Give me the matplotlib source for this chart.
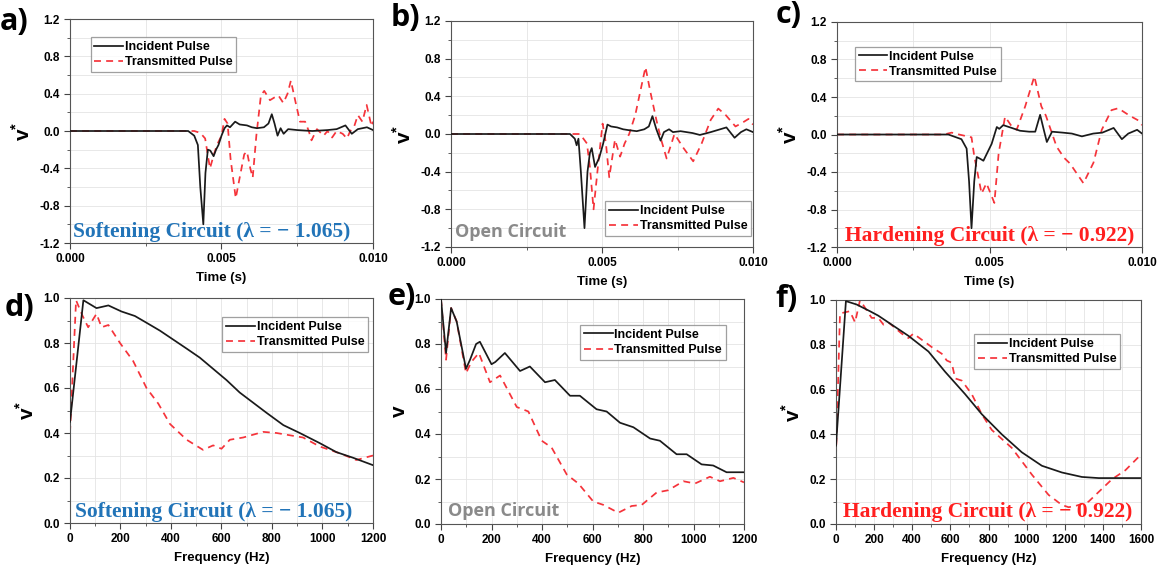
import numpy as np
import matplotlib
matplotlib.use("Agg")
import matplotlib.pyplot as plt
from matplotlib.ticker import MultipleLocator, FormatStrFormatter

plt.rcParams['font.family'] = ['Liberation Sans', 'DejaVu Sans']
plt.rcParams['font.weight'] = 'bold'
plt.rcParams['mathtext.fontset'] = 'custom'
plt.rcParams['mathtext.rm'] = 'Liberation Sans:bold'
plt.rcParams['mathtext.bf'] = 'Liberation Sans:bold'

# ---- time domain (times in ms) ----
a_inc_t = [0, 3.9, 4.1, 4.22, 4.3, 4.4, 4.47, 4.55, 4.63, 4.74, 4.82, 4.9, 5.0, 5.1, 5.18, 5.28, 5.45, 5.6, 5.84, 6.0,
           6.17, 6.4, 6.55, 6.66, 6.75, 6.85, 6.95, 7.05, 7.2, 7.5, 8.0, 8.5, 8.8, 9.09, 9.3, 9.5, 9.8, 10.0]
a_inc_v = [0, 0, -0.05, -0.15, -0.6, -1.0, -0.45, -0.2, -0.21, -0.27, -0.2, -0.15, -0.05, 0.03, 0.06, 0.04, 0.1, 0.07,
           0.06, 0.04, 0.03, 0.04, 0.08, 0.18, 0.08, -0.05, 0.03, -0.03, 0.02, 0.01, 0.0, 0.01, 0.02, 0.06, -0.03, 0.02,
           0.04, 0.01]
a_tra_t = [0, 4.1, 4.3, 4.46, 4.62, 4.75, 4.85, 5.0, 5.1, 5.2, 5.3, 5.47, 5.6, 5.75, 5.84, 5.95, 6.03, 6.15, 6.3, 6.41,
           6.6, 6.75, 6.88, 7.04, 7.18, 7.29, 7.45, 7.59, 7.76, 7.88, 7.97, 8.15, 8.37, 8.5, 8.65, 8.8, 9.0, 9.14, 9.25,
           9.38, 9.5, 9.65, 9.79, 9.95, 10.0]
a_tra_v = [0, 0, -0.02, -0.08, -0.4, -0.25, -0.15, -0.05, 0.13, 0.08, -0.3, -0.72, -0.5, -0.25, -0.22, -0.4, -0.5,
           -0.05, 0.38, 0.43, 0.33, 0.36, 0.38, 0.3, 0.4, 0.54, 0.3, 0.1, 0.1, 0.0, -0.1, 0.02, -0.05, 0.0, -0.07, 0.0,
           -0.03, -0.08, 0.0, 0.05, 0.17, 0.1, 0.28, 0.05, 0.1]

b_inc_t = [0, 3.94, 4.1, 4.16, 4.22, 4.3, 4.42, 4.52, 4.6, 4.66, 4.77, 4.91, 5.04, 5.18, 5.3, 5.5, 5.7, 5.9, 6.15, 6.4,
           6.55, 6.67, 6.8, 6.94, 7.05, 7.22, 7.35, 7.6, 8.0, 8.24, 8.6, 9.12, 9.39, 9.6, 9.78, 10.0]
b_inc_v = [0, 0, -0.05, -0.12, -0.05, -0.4, -1.0, -0.4, -0.2, -0.15, -0.35, -0.25, -0.1, 0.1, 0.08, 0.07, 0.05, 0.04,
           0.03, 0.05, 0.08, 0.19, 0.05, -0.07, 0.02, 0.05, 0.02, 0.03, 0.01, -0.01, 0.02, 0.07, -0.04, 0.02, 0.05, 0.02]
b_tra_t = [0, 4.27, 4.5, 4.6, 4.72, 4.88, 5.02, 5.13, 5.24, 5.43, 5.6, 5.75, 5.9, 6.1, 6.3, 6.44, 6.6, 6.8, 6.95, 7.14,
           7.3, 7.4, 7.7, 8.02, 8.3, 8.6, 8.85, 9.1, 9.42, 9.65, 9.85, 10.0]
b_tra_v = [0, 0, -0.1, -0.35, -0.8, -0.3, 0.11, -0.1, -0.46, -0.06, -0.24, -0.1, 0.0, 0.2, 0.5, 0.71, 0.45, 0.15,
           -0.05, -0.26, -0.1, 0.0, -0.15, -0.29, -0.1, 0.15, 0.27, 0.2, 0.08, 0.12, 0.16, 0.1]

c_inc_t = [0, 3.65, 4.08, 4.25, 4.33, 4.41, 4.5, 4.58, 4.7, 4.8, 4.92, 5.07, 5.24, 5.32, 5.45, 5.73, 6.0, 6.3, 6.5,
           6.66, 6.78, 6.88, 7.05, 7.4, 7.7, 8.03, 8.4, 8.7, 9.07, 9.34, 9.55, 9.84, 10.0]
c_inc_v = [0, 0, -0.05, -0.15, -0.5, -1.0, -0.5, -0.24, -0.26, -0.28, -0.2, -0.1, 0.08, 0.06, 0.1, 0.07, 0.04, 0.03,
           0.03, 0.21, 0.05, -0.08, 0.03, 0.02, 0.01, -0.02, 0.01, 0.02, 0.07, -0.05, 0.01, 0.05, 0.01]
c_tra_t = [0, 3.5, 3.76, 4.0, 4.41, 4.5, 4.74, 4.9, 5.16, 5.3, 5.51, 5.7, 5.89, 6.17, 6.47, 6.7, 6.85, 7.2, 7.45,
           7.64, 8.08, 8.41, 8.68, 9.0, 9.22, 9.6, 9.88, 10.0]
c_tra_v = [0, 0, 0.02, 0.0, -0.03, -0.23, -0.63, -0.52, -0.73, -0.2, 0.19, 0.1, 0.05, 0.3, 0.62, 0.3, 0.2, -0.13,
           -0.25, -0.31, -0.52, -0.3, 0.05, 0.26, 0.28, 0.2, 0.15, 0.1]

# ---- frequency domain (Hz) ----
d_inc_f = [0, 53, 105, 152, 204, 257, 303, 356, 409, 462, 514, 567, 620, 672, 725, 778, 845, 910, 989, 1055, 1121, 1200]
d_inc_v = [0.45, 0.99, 0.955, 0.967, 0.94, 0.92, 0.89, 0.855, 0.815, 0.775, 0.735, 0.685, 0.635, 0.58, 0.535, 0.49,
           0.435, 0.40, 0.355, 0.315, 0.29, 0.257]
d_tra_f = [0, 24, 50, 72, 105, 125, 152, 198, 250, 303, 350, 396, 462, 527, 567, 600, 633, 686, 765, 818, 870, 923,
           989, 1068, 1134, 1200]
d_tra_v = [0.40, 0.99, 0.92, 0.87, 0.93, 0.87, 0.88, 0.80, 0.72, 0.60, 0.53, 0.44, 0.37, 0.325, 0.345, 0.33, 0.37,
           0.38, 0.405, 0.40, 0.39, 0.38, 0.34, 0.31, 0.28, 0.30]

e_inc_f = [0, 20, 40, 62, 99, 115, 139, 154, 200, 215, 253, 313, 352, 412, 451, 511, 550, 616, 656, 709, 762, 828,
           867, 933, 973, 1032, 1078, 1131, 1200]
e_inc_v = [1.0, 0.76, 0.96, 0.90, 0.69, 0.73, 0.80, 0.81, 0.71, 0.72, 0.76, 0.68, 0.70, 0.63, 0.64, 0.57, 0.57, 0.51,
           0.50, 0.45, 0.43, 0.38, 0.37, 0.31, 0.31, 0.265, 0.26, 0.23, 0.23]
e_tra_f = [0, 20, 40, 62, 99, 120, 150, 194, 234, 300, 346, 399, 438, 498, 544, 603, 643, 702, 755, 795, 854, 900,
           960, 1006, 1065, 1105, 1158, 1200]
e_tra_v = [1.0, 0.73, 0.96, 0.90, 0.67, 0.72, 0.76, 0.63, 0.66, 0.52, 0.50, 0.37, 0.34, 0.22, 0.18, 0.10, 0.085, 0.05,
           0.08, 0.085, 0.14, 0.15, 0.19, 0.18, 0.21, 0.19, 0.205, 0.185]

f_inc_f = [0, 52, 108, 178, 222, 292, 380, 485, 572, 677, 765, 870, 975, 1080, 1185, 1290, 1378, 1600]
f_inc_v = [0.35, 0.995, 0.98, 0.95, 0.93, 0.89, 0.84, 0.77, 0.68, 0.58, 0.49, 0.40, 0.32, 0.26, 0.23, 0.21, 0.205, 0.205]
f_tra_f = [0, 21, 73, 100, 126, 187, 222, 249, 275, 345, 380, 406, 502, 555, 581, 607, 625, 660, 712, 765, 817, 922,
           1028, 1115, 1185, 1220, 1255, 1325, 1448, 1518, 1600]
f_tra_v = [0.30, 0.94, 0.95, 0.90, 1.0, 0.92, 0.92, 0.89, 0.90, 0.85, 0.83, 0.85, 0.79, 0.76, 0.73, 0.72, 0.65, 0.64,
           0.58, 0.49, 0.42, 0.34, 0.22, 0.13, 0.085, 0.075, 0.08, 0.10, 0.20, 0.24, 0.31]

W, H = 1166, 575
BLACK = '#1a1a1a'
RED = '#f5333a'
SERIF = ['Liberation Serif', 'DejaVu Serif']


def add_panel(fig, left, right, top, bottom):
    # pixel box -> figure fraction
    return fig.add_axes([left / W, 1 - bottom / H, (right - left) / W, (bottom - top) / H])


def style(ax, xmaj, xmin, ymaj, ymin):
    ax.xaxis.set_major_locator(MultipleLocator(xmaj))
    ax.xaxis.set_minor_locator(MultipleLocator(xmin))
    ax.yaxis.set_major_locator(MultipleLocator(ymaj))
    ax.yaxis.set_minor_locator(MultipleLocator(ymin))
    ax.grid(True, which='both', color='#e4e4e4', lw=0.6, zorder=0)
    ax.set_axisbelow(True)
    ax.tick_params(which='both', direction='out', labelsize=8.5, top=False, right=False, color='#444')
    ax.tick_params(which='major', length=4)
    ax.tick_params(which='minor', length=2)
    for s in ax.spines.values():
        s.set_color('#555')
        s.set_linewidth(0.8)


def curves(ax, xi, yi, xt, yt, scale=1.0):
    ax.plot(np.array(xi) * scale, yi, color=BLACK, lw=1.25, label='Incident Pulse', zorder=3)
    ax.plot(np.array(xt) * scale, yt, color=RED, lw=1.25, ls=(0, (4, 3)), label='Transmitted Pulse', zorder=2)


def legend(ax, loc, anchor):
    lg = ax.legend(loc=loc, bbox_to_anchor=anchor, fontsize=9, frameon=True, fancybox=False,
                   edgecolor='#888', borderpad=0.3, labelspacing=0.25, handlelength=2.3, handletextpad=0.15,
                   borderaxespad=0)
    lg.get_frame().set_linewidth(0.9)
    for t in lg.get_texts():
        t.set_fontweight('bold')


fig = plt.figure(figsize=(W / 100, H / 100), dpi=100)

time_boxes = [(70, 373, 19, 243), (451, 753, 21, 247), (837, 1142, 22, 247)]
freq_boxes = [(70, 373, 298, 523), (441, 744, 299, 524), (836, 1141, 300, 524)]

time_data = [(a_inc_t, a_inc_v, a_tra_t, a_tra_v),
             (b_inc_t, b_inc_v, b_tra_t, b_tra_v),
             (c_inc_t, c_inc_v, c_tra_t, c_tra_v)]
freq_data = [(d_inc_f, d_inc_v, d_tra_f, d_tra_v),
             (e_inc_f, e_inc_v, e_tra_f, e_tra_v),
             (f_inc_f, f_inc_v, f_tra_f, f_tra_v)]

notes = [('Softening Circuit (λ = − 1.065)', '#2274b8', SERIF),
         ('Open Circuit', '#8a8a8a', ['Open Sans', 'DejaVu Sans']),
         ('Hardening Circuit (λ = − 0.922)', '#ff1f1f', SERIF)]
time_note_pos = [(0.010, 0.027), (0.013, 0.043), (0.026, 0.027)]
freq_note_pos = [(0.017, 0.028), (0.023, 0.037), (0.023, 0.030)]
time_leg = [('upper left', (0.068, 0.918)), ('lower right', (0.993, 0.049)), ('upper left', (0.059, 0.89))]
freq_leg = [('upper right', (0.984, 0.914)), ('upper right', (0.94, 0.884)), ('upper right', (0.931, 0.847))]
fmax = [1200, 1200, 1600]
ylab = [r'v$^{*}$', 'v', r'v$^{*}$']

for i in range(3):
    ax = add_panel(fig, *time_boxes[i])
    curves(ax, *time_data[i], scale=1e-3)
    ax.set_xlim(0, 0.010)
    ax.set_ylim(-1.2, 1.2)
    style(ax, 0.005, 0.0025, 0.4, 0.2)
    ax.xaxis.set_major_formatter(FormatStrFormatter('%.3f'))
    ax.yaxis.set_major_formatter(FormatStrFormatter('%.1f'))
    ax.set_xlabel('Time (s)', fontsize=9.5, fontweight='bold', labelpad=5)
    ax.set_ylabel(r'v$^{*}$', fontsize=15, fontweight='bold', labelpad=4)
    legend(ax, *time_leg[i])
    txt, col, fam = notes[i]
    size = 13 if i == 1 else 15.5
    ax.text(*time_note_pos[i], txt, transform=ax.transAxes, color=col, family=fam, fontsize=size,
            fontweight='bold', va='baseline', ha='left', zorder=5)

    ax = add_panel(fig, *freq_boxes[i])
    curves(ax, *freq_data[i])
    ax.set_xlim(0, fmax[i])
    ax.set_ylim(0, 1.0)
    style(ax, 200, 100, 0.2, 0.1)
    ax.yaxis.set_major_formatter(FormatStrFormatter('%.1f'))
    ax.set_xlabel('Frequency (Hz)', fontsize=9.5, fontweight='bold', labelpad=5)
    ax.set_ylabel(ylab[i], fontsize=15, fontweight='bold', labelpad=4)
    legend(ax, *freq_leg[i])
    ax.text(*freq_note_pos[i], txt, transform=ax.transAxes, color=col, family=fam, fontsize=size,
            fontweight='bold', va='baseline', ha='left', zorder=5)

# panel letters
letters = [('a)', 0, 30), ('b)', 391, 26), ('c)', 776, 23), ('d)', 5, 316), ('e)', 388, 305), ('f)', 775, 307)]
for s, x, y in letters:
    fig.text(x / W, 1 - y / H, s, fontsize=22, fontweight='bold', family=['Open Sans', 'DejaVu Sans'],
             va='baseline', ha='left')

fig.savefig('out.png', dpi=100)
